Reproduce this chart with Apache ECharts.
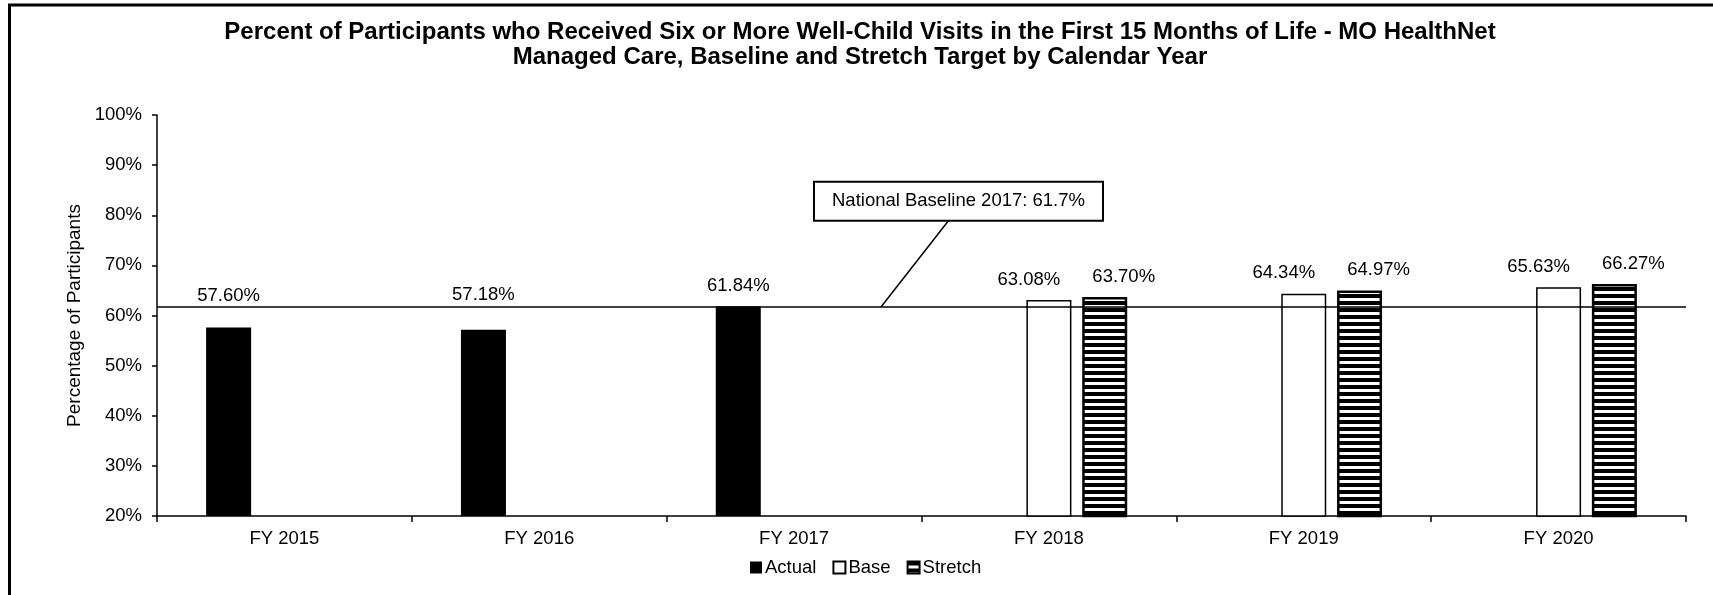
<!DOCTYPE html>
<html>
<head>
<meta charset="utf-8">
<title>Well-Child Visits - MO HealthNet Managed Care</title>
<script src="https://cdn.jsdelivr.net/npm/echarts@6/dist/echarts.min.js"></script>
<style>
  html, body { margin: 0; padding: 0; background: #fff; }
  #chart { width: 1713px; height: 595px; }
</style>
</head>
<body>
<div id="chart"></div>
<script>
// Calendar years on the category axis
const categories = ['FY 2015', 'FY 2016', 'FY 2017', 'FY 2018', 'FY 2019', 'FY 2020'];

// Percent of participants with six or more well-child visits
const actual  = [57.60, 57.18, 61.84, null, null, null];
const base    = [null, null, null, 63.08, 64.34, 65.63];
const stretch = [null, null, null, 63.70, 64.97, 66.27];

// National reference line
const nationalBaseline = 61.7;
const nationalLabel = 'National Baseline 2017: 61.7%';

// Value axis range
const yMin = 20, yMax = 100, yStep = 10;

const FONT = '"Liberation Sans", Arial, Helvetica, sans-serif';

// Horizontal stripe fill for the stretch bars
function stripePattern() {
  const c = document.createElement('canvas');
  c.width = 8; c.height = 7;
  const g = c.getContext('2d');
  g.fillStyle = '#fff'; g.fillRect(0, 0, 8, 7);
  g.fillStyle = '#000'; g.fillRect(0, 0, 8, 4);
  return c;
}
const stripes = { image: stripePattern(), repeat: 'repeat' };

const pct = p => (p.value == null ? '' : Number(p.value).toFixed(2) + '%');

// the actual-year labels sit a little higher above their bars
const actualLabelDistance = [22, 25, 11];
const actualItems = actual.map((v, i) =>
  v == null ? null : { value: v, label: { distance: actualLabelDistance[i] } });

const labelStyle = {
  show: true, position: 'top', distance: 11, formatter: pct,
  color: '#000', fontSize: 18.5, fontFamily: FONT
};

const chart = echarts.init(document.getElementById('chart'), null, { renderer: 'canvas' });

chart.setOption({
  animation: false,
  backgroundColor: '#fff',
  title: {
    text: 'Percent of Participants who Received Six or More Well-Child Visits in the First 15 Months of Life - MO HealthNet\nManaged Care, Baseline and Stretch Target by Calendar Year',
    left: 860,
    top: 20,
    padding: 0,
    textAlign: 'center',
    textStyle: {
      fontFamily: FONT, fontSize: 24, fontWeight: 'bold', color: '#000',
      lineHeight: 25
    }
  },
  legend: {
    data: ['Actual', 'Base', 'Stretch'],
    left: 745,
    top: 553,
    icon: 'rect',
    itemWidth: 12,
    itemHeight: 12,
    itemGap: 16,
    textStyle: { fontFamily: FONT, fontSize: 18.5, color: '#000', padding: [0, 0, 0, -2] },
    selectedMode: false
  },
  grid: { left: 157, right: 27, top: 115, bottom: 79 },
  xAxis: {
    type: 'category',
    data: categories,
    axisLine: { lineStyle: { color: '#000', width: 1.5 } },
    axisTick: { show: true, length: 6, lineStyle: { color: '#000', width: 1.5 } },
    axisLabel: { color: '#000', fontFamily: FONT, fontSize: 18.5, margin: 13 },
    splitLine: { show: false }
  },
  yAxis: {
    type: 'value',
    min: yMin, max: yMax, interval: yStep,
    name: 'Percentage of Participants',
    nameLocation: 'middle',
    nameGap: 73,
    nameTextStyle: { color: '#000', fontFamily: FONT, fontSize: 19 },
    axisLine: { show: true, lineStyle: { color: '#000', width: 1.5 } },
    axisTick: { show: true, length: 5, lineStyle: { color: '#000', width: 1.5 } },
    axisLabel: { color: '#000', fontFamily: FONT, fontSize: 18.5, margin: 15, formatter: '{value}%' },
    splitLine: { show: false }
  },
  series: [
    {
      name: 'Actual', type: 'bar', data: actualItems,
      barWidth: 45, barGap: '24%',
      itemStyle: { color: '#000', borderColor: '#000', borderWidth: 0 },
      label: labelStyle,
      markLine: {
        silent: true,
        symbol: ['none', 'none'],
        label: { show: false },
        lineStyle: { color: '#000', width: 1.5, type: 'solid' },
        emphasis: { disabled: true },
        data: [{ yAxis: nationalBaseline }]
      }
    },
    {
      name: 'Base', type: 'bar', data: base,
      barWidth: 45, barGap: '24%',
      itemStyle: { color: '#fff', borderColor: '#000', borderWidth: 1.5 },
      // pushed left so it clears the stretch label beside it
      label: Object.assign({}, labelStyle, { offset: [-20, 0] })
    },
    {
      name: 'Stretch', type: 'bar', data: stretch,
      barWidth: 45, barGap: '24%',
      itemStyle: { color: stripes, borderColor: '#000', borderWidth: 2.5 },
      label: Object.assign({}, labelStyle, { offset: [19, 0] })
    }
  ]
});

// Callout for the national baseline, laid out against the axes
const xPix = c => chart.convertToPixel({ xAxisIndex: 0 }, c);
const yPix = v => chart.convertToPixel({ yAxisIndex: 0 }, v);
const x17 = xPix('FY 2017');
const band = xPix('FY 2018') - x17;
const lineY = yPix(nationalBaseline);
const boxTop = yPix(86.5);
const boxBottom = yPix(79.05);

chart.setOption({
  graphic: [
    {
      // outer frame
      type: 'rect', silent: true,
      shape: { x: 9.5, y: 5, width: 1800, height: 700 },
      style: { fill: 'none', stroke: '#000', lineWidth: 3 }
    },
    {
      type: 'line', silent: true,
      shape: { x1: x17 + 0.608 * band, y1: boxBottom, x2: x17 + 0.341 * band, y2: lineY },
      style: { stroke: '#000', lineWidth: 1.5 }
    },
    {
      type: 'text', silent: true,
      x: x17 + 0.082 * band, y: boxTop,
      style: {
        text: nationalLabel,
        font: '18.5px ' + FONT,
        fill: '#000',
        align: 'left', verticalAlign: 'top',
        lineHeight: 19,
        padding: [9, 17, 9, 17],
        backgroundColor: '#fff',
        borderColor: '#000',
        borderWidth: 2
      }
    }
  ]
});
</script>
</body>
</html>
